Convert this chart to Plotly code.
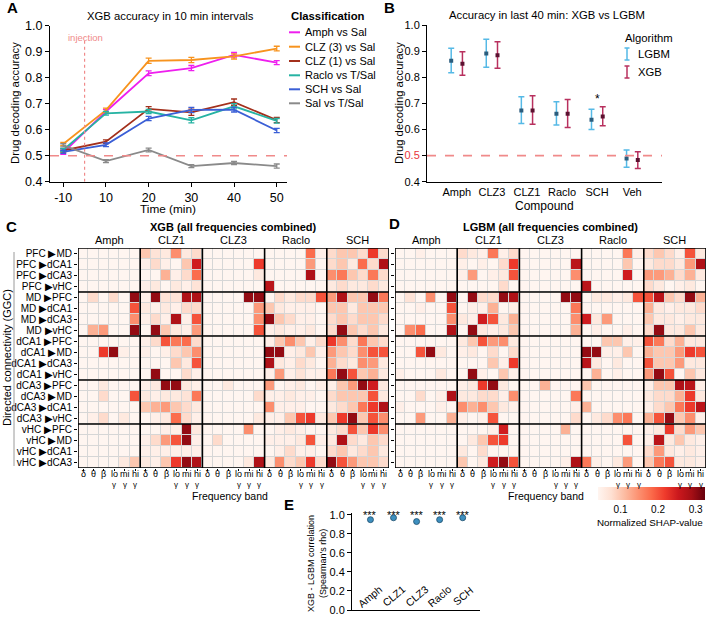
import plotly.graph_objects as go

W, H = 708, 619
FONT = "Arial, Liberation Sans, sans-serif"

# ---------------- panel A : XGB accuracy in 10 min intervals ----------------
time_labels = ["-10", "10", "20", "30", "40", "50"]
class_names = ["Amph vs Sal", "CLZ (3) vs Sal", "CLZ (1) vs Sal",
               "Raclo vs T/Sal", "SCH vs Sal", "Sal vs T/Sal"]
class_colors = ["#ee1fee", "#f7931e", "#a3301c", "#26b3a3", "#3b5fd6", "#8a8a8a"]
amph_acc = [0.512, 0.670, 0.817, 0.837, 0.888, 0.858]
clz3_acc = [0.545, 0.675, 0.865, 0.868, 0.882, 0.912]
clz1_acc = [0.520, 0.554, 0.680, 0.667, 0.706, 0.637]
raclo_acc = [0.522, 0.663, 0.670, 0.636, 0.690, 0.634]
sch_acc = [0.515, 0.542, 0.643, 0.676, 0.677, 0.597]
sal_acc = [0.540, 0.479, 0.522, 0.460, 0.472, 0.460]
amph_err = [0.007, 0.008, 0.009, 0.010, 0.009, 0.008]
clz3_err = [0.006, 0.008, 0.010, 0.010, 0.010, 0.009]
clz1_err = [0.006, 0.007, 0.009, 0.012, 0.012, 0.010]
raclo_err = [0.006, 0.007, 0.008, 0.010, 0.010, 0.009]
sch_err = [0.006, 0.007, 0.008, 0.010, 0.009, 0.008]
sal_err = [0.006, 0.006, 0.007, 0.006, 0.006, 0.008]

# ---------------- panel B : last 40 min, XGB vs LGBM ----------------
compounds_b = ["Amph", "CLZ3", "CLZ1", "Raclo", "SCH", "Veh"]
lgbm_mean = [0.863, 0.891, 0.673, 0.660, 0.637, 0.489]
lgbm_hi = [0.911, 0.945, 0.725, 0.706, 0.677, 0.521]
lgbm_lo = [0.817, 0.838, 0.623, 0.617, 0.600, 0.455]
xgb_mean = [0.852, 0.884, 0.673, 0.660, 0.650, 0.483]
xgb_hi = [0.898, 0.936, 0.729, 0.715, 0.687, 0.515]
xgb_lo = [0.808, 0.834, 0.620, 0.608, 0.614, 0.451]

# ---------------- panels C / D : SHAP heatmaps ----------------
compounds_hm = ["Amph", "CLZ1", "CLZ3", "Raclo", "SCH"]
band_top = ["δ", "θ", "β", "lo", "mi", "hi"]
band_sub = ["", "", "", "γ", "γ", "γ"]
row_labels = ["PFC ▶MD", "PFC ▶dCA1", "PFC ▶dCA3", "PFC ▶vHC",
              "MD ▶PFC", "MD ▶dCA1", "MD ▶dCA3", "MD ▶vHC",
              "dCA1 ▶PFC", "dCA1 ▶MD", "dCA1 ▶dCA3", "dCA1 ▶vHC",
              "dCA3 ▶PFC", "dCA3 ▶MD", "dCA3 ▶dCA1", "dCA3 ▶vHC",
              "vHC ▶PFC", "vHC ▶MD", "vHC ▶dCA1", "vHC ▶dCA3"]

# normalized SHAP values x100, columns: Amph | CLZ1 | CLZ3 | Raclo | SCH (6 bands each)
xgb_shap = [
    [2, 2, 2, 2, 2, 2, 10, 7, 6, 15, 6, 8, 2, 2, 2, 2, 3, 4, 4, 3, 3, 4, 18, 5, 8, 10, 10, 8, 22, 8],
    [2, 2, 2, 2, 2, 2, 5, 8, 5, 4, 10, 25, 2, 2, 2, 2, 3, 22, 3, 3, 2, 3, 14, 4, 8, 10, 6, 18, 8, 28],
    [2, 2, 2, 2, 2, 2, 4, 4, 12, 5, 8, 18, 2, 2, 2, 2, 2, 6, 3, 2, 2, 3, 28, 3, 15, 17, 10, 8, 17, 8],
    [2, 2, 2, 2, 2, 2, 5, 6, 4, 6, 5, 7, 2, 2, 2, 2, 2, 2, 27, 3, 2, 3, 3, 2, 6, 8, 6, 6, 8, 6],
    [2, 8, 2, 8, 4, 30, 5, 30, 7, 7, 28, 28, 3, 3, 2, 3, 30, 30, 2, 8, 6, 8, 8, 20, 14, 28, 10, 10, 30, 17],
    [3, 3, 2, 3, 4, 20, 6, 5, 6, 5, 8, 8, 2, 2, 2, 2, 2, 14, 10, 6, 5, 5, 5, 4, 10, 10, 6, 10, 10, 10],
    [3, 2, 2, 3, 3, 15, 5, 8, 5, 28, 5, 20, 2, 2, 2, 2, 3, 15, 30, 10, 8, 5, 5, 4, 8, 10, 8, 10, 10, 8],
    [3, 12, 14, 3, 4, 30, 4, 30, 10, 6, 5, 14, 2, 2, 2, 2, 3, 20, 5, 6, 5, 5, 6, 4, 8, 30, 10, 8, 10, 6],
    [2, 2, 2, 2, 2, 2, 5, 8, 20, 17, 18, 8, 2, 2, 2, 2, 2, 2, 5, 10, 15, 10, 5, 8, 22, 15, 8, 17, 10, 8],
    [2, 3, 22, 30, 5, 2, 5, 3, 5, 8, 10, 15, 2, 2, 2, 2, 2, 2, 30, 30, 5, 6, 10, 5, 14, 10, 8, 15, 20, 20],
    [3, 2, 3, 2, 3, 2, 4, 3, 4, 10, 6, 20, 2, 2, 2, 2, 2, 2, 28, 6, 5, 8, 6, 4, 12, 8, 6, 15, 14, 6],
    [4, 2, 2, 2, 2, 2, 3, 30, 4, 4, 8, 5, 2, 2, 3, 2, 2, 2, 5, 14, 5, 7, 5, 5, 17, 30, 20, 10, 12, 6],
    [2, 3, 6, 2, 2, 2, 5, 6, 30, 30, 6, 5, 3, 3, 6, 2, 2, 3, 14, 4, 5, 6, 4, 5, 5, 10, 14, 30, 25, 6],
    [2, 3, 8, 2, 4, 20, 6, 5, 6, 6, 7, 17, 2, 2, 2, 2, 3, 8, 5, 5, 6, 5, 5, 4, 8, 10, 10, 10, 20, 6],
    [3, 2, 3, 2, 3, 2, 10, 12, 14, 10, 8, 6, 2, 2, 2, 2, 2, 4, 15, 5, 5, 5, 4, 4, 6, 8, 10, 17, 22, 28],
    [2, 5, 8, 2, 6, 3, 4, 5, 6, 18, 8, 5, 2, 2, 2, 2, 3, 6, 5, 5, 10, 20, 22, 6, 10, 22, 30, 10, 20, 15],
    [2, 2, 3, 2, 2, 2, 4, 4, 5, 5, 30, 6, 2, 2, 2, 2, 15, 4, 4, 5, 6, 5, 4, 4, 6, 8, 20, 10, 22, 15],
    [2, 2, 3, 2, 3, 2, 5, 8, 14, 20, 30, 5, 2, 8, 2, 2, 2, 3, 5, 5, 5, 6, 20, 5, 6, 28, 8, 6, 10, 8],
    [2, 2, 2, 2, 3, 2, 5, 5, 5, 5, 5, 5, 2, 2, 2, 2, 2, 2, 4, 5, 8, 5, 5, 4, 8, 10, 6, 8, 10, 6],
    [2, 3, 2, 3, 6, 10, 6, 5, 10, 22, 30, 28, 2, 2, 2, 4, 6, 28, 6, 15, 8, 10, 22, 8, 30, 20, 14, 10, 10, 8],
]
lgbm_shap = [
    [2, 2, 5, 4, 2, 2, 8, 6, 5, 17, 5, 8, 3, 2, 2, 2, 2, 4, 3, 2, 2, 4, 17, 5, 8, 10, 8, 5, 20, 6],
    [2, 4, 3, 2, 3, 2, 5, 4, 5, 4, 8, 22, 2, 2, 2, 2, 3, 27, 3, 2, 2, 3, 10, 2, 6, 8, 8, 6, 14, 28],
    [2, 3, 2, 3, 2, 2, 5, 14, 4, 5, 6, 20, 2, 2, 2, 2, 2, 15, 3, 3, 3, 3, 25, 2, 14, 14, 12, 8, 12, 6],
    [2, 2, 3, 2, 2, 2, 3, 4, 3, 4, 8, 4, 3, 3, 3, 3, 3, 2, 27, 4, 2, 3, 3, 2, 8, 6, 4, 5, 6, 4],
    [2, 7, 2, 15, 2, 30, 3, 30, 8, 8, 30, 28, 2, 3, 2, 2, 30, 30, 2, 6, 6, 5, 6, 20, 20, 27, 10, 8, 30, 12],
    [2, 3, 5, 2, 3, 20, 3, 5, 5, 12, 4, 5, 2, 2, 2, 2, 2, 17, 4, 4, 4, 4, 4, 4, 12, 6, 5, 6, 6, 8],
    [3, 2, 2, 2, 3, 15, 6, 5, 25, 20, 6, 12, 2, 2, 2, 2, 2, 15, 25, 6, 14, 4, 4, 3, 10, 6, 6, 5, 6, 6],
    [2, 15, 18, 2, 3, 28, 3, 30, 6, 5, 6, 10, 2, 2, 2, 2, 2, 12, 4, 5, 4, 4, 5, 4, 8, 30, 6, 6, 10, 6],
    [1, 2, 1, 2, 1, 2, 6, 10, 20, 14, 15, 6, 2, 2, 2, 2, 2, 2, 2, 4, 10, 10, 5, 5, 20, 17, 8, 12, 6, 6],
    [2, 2, 20, 30, 6, 2, 5, 6, 4, 8, 3, 8, 2, 2, 2, 2, 2, 2, 30, 30, 5, 5, 10, 4, 12, 10, 10, 14, 22, 20],
    [3, 2, 3, 2, 4, 2, 4, 3, 4, 10, 5, 22, 2, 2, 2, 2, 2, 2, 27, 6, 4, 6, 4, 4, 20, 10, 10, 14, 6, 6],
    [5, 4, 2, 4, 6, 3, 4, 30, 5, 4, 10, 5, 2, 2, 2, 2, 2, 2, 2, 12, 2, 5, 4, 2, 14, 30, 20, 4, 10, 6],
    [2, 3, 4, 2, 2, 2, 5, 6, 22, 30, 6, 4, 2, 3, 12, 2, 2, 2, 10, 4, 4, 4, 4, 4, 5, 10, 10, 28, 27, 5],
    [2, 2, 8, 2, 5, 28, 6, 6, 8, 8, 5, 15, 2, 2, 2, 2, 2, 17, 4, 4, 4, 4, 4, 4, 6, 8, 8, 12, 22, 6],
    [5, 2, 4, 2, 5, 2, 15, 12, 15, 10, 6, 5, 2, 2, 2, 2, 2, 5, 12, 4, 4, 4, 4, 4, 5, 8, 10, 17, 22, 27],
    [2, 3, 14, 2, 3, 12, 5, 4, 5, 20, 4, 3, 2, 2, 2, 2, 4, 8, 4, 6, 8, 15, 17, 2, 12, 20, 30, 10, 15, 5],
    [2, 2, 2, 2, 2, 2, 4, 3, 4, 5, 25, 4, 2, 2, 2, 2, 12, 3, 4, 4, 4, 4, 4, 4, 5, 6, 22, 8, 14, 10],
    [2, 2, 2, 2, 2, 2, 4, 6, 10, 20, 22, 4, 2, 2, 2, 2, 3, 3, 4, 4, 4, 4, 20, 4, 5, 27, 6, 10, 6, 5],
    [2, 2, 2, 2, 2, 2, 6, 3, 8, 4, 4, 4, 2, 2, 2, 2, 3, 3, 4, 4, 4, 4, 4, 4, 8, 14, 6, 5, 6, 5],
    [2, 2, 2, 2, 2, 4, 10, 4, 6, 25, 30, 20, 2, 2, 2, 2, 5, 28, 17, 5, 4, 6, 14, 4, 10, 17, 20, 6, 6, 5],
]
shap_ticks = [0.1, 0.2, 0.3]

# ---------------- panel E : XGB-LGBM SHAP correlation ----------------
compounds_e = ["Amph", "CLZ1", "CLZ3", "Raclo", "SCH"]
rho = [0.95, 0.97, 0.93, 0.95, 0.97]
rho_sig = ["***", "***", "***", "***", "***"]


def px_x(v):
    return v / W


def px_y(v):
    return 1 - v / H


def dom_x(a, b):
    return [px_x(a), px_x(b)]


def dom_y(top, bottom):
    return [px_y(bottom), px_y(top)]


def label(text, x, y, size=11, bold=False, color="black", xanchor="center", angle=0):
    if bold:
        text = "<b>" + text + "</b>"
    return dict(text=text, x=px_x(x), y=px_y(y), xref="paper", yref="paper",
                xanchor=xanchor, yanchor="middle", showarrow=False, textangle=angle,
                font=dict(size=size, color=color, family=FONT))


fig = go.Figure()

# A: lines with error bars
series_a = [amph_acc, clz3_acc, clz1_acc, raclo_acc, sch_acc, sal_acc]
errors_a = [amph_err, clz3_err, clz1_err, raclo_err, sch_err, sal_err]
for name, color, vals, err in zip(class_names, class_colors, series_a, errors_a):
    fig.add_trace(go.Scatter(
        x=time_labels, y=vals, name=name, mode="lines",
        line=dict(color=color, width=1.8),
        error_y=dict(type="data", array=err, color=color, thickness=1.3, width=3),
        xaxis="x", yaxis="y"
    ))

# B: mean +/- CI for each algorithm, side by side
offset = 0.16
lgbm_pos = [i - offset for i in range(len(compounds_b))]
xgb_pos = [i + offset for i in range(len(compounds_b))]
fig.add_trace(go.Scatter(
    x=lgbm_pos, y=lgbm_mean, mode="markers", name="LGBM",
    marker=dict(symbol="square", size=4, color="#2b5d7d"),
    error_y=dict(type="data", symmetric=False,
                 array=[h - m for h, m in zip(lgbm_hi, lgbm_mean)],
                 arrayminus=[m - l for m, l in zip(lgbm_mean, lgbm_lo)],
                 color="#55b9e6", thickness=1.5, width=3),
    xaxis="x2", yaxis="y2"
))
fig.add_trace(go.Scatter(
    x=xgb_pos, y=xgb_mean, mode="markers", name="XGB",
    marker=dict(symbol="square", size=4, color="#5c1130"),
    error_y=dict(type="data", symmetric=False,
                 array=[h - m for h, m in zip(xgb_hi, xgb_mean)],
                 arrayminus=[m - l for m, l in zip(xgb_mean, xgb_lo)],
                 color="#b8305e", thickness=1.5, width=3),
    xaxis="x2", yaxis="y2"
))

# C / D heatmaps
reds = [[0.0, "#fff5f0"], [0.125, "#fee0d2"], [0.25, "#fcbba1"], [0.375, "#fc9272"],
        [0.5, "#fb6a4a"], [0.625, "#ef3b2c"], [0.75, "#cb181d"], [0.875, "#a50f15"],
        [1.0, "#67000d"]]
SHAP_MIN, SHAP_MAX = 0.04, 0.325
xgb_z = [[v / 100 for v in row] for row in xgb_shap]
lgbm_z = [[v / 100 for v in row] for row in lgbm_shap]
fig.add_trace(go.Heatmap(
    z=xgb_z, colorscale=reds, zmin=SHAP_MIN, zmax=SHAP_MAX, xgap=1, ygap=1,
    showscale=False, xaxis="x3", yaxis="y3"
))
fig.add_trace(go.Heatmap(
    z=lgbm_z, colorscale=reds, zmin=SHAP_MIN, zmax=SHAP_MAX, xgap=1, ygap=1,
    xaxis="x4", yaxis="y4",
    colorbar=dict(orientation="h", x=px_x(598), xanchor="left", lenmode="pixels", len=107,
                  y=px_y(487), yanchor="top", thickness=13, xpad=0, ypad=0,
                  outlinewidth=0, tickvals=shap_ticks, ticks="", ticklen=2,
                  tickfont=dict(size=10, family=FONT))
))

# E: correlation points
fig.add_trace(go.Scatter(
    x=compounds_e, y=rho, mode="markers",
    marker=dict(size=6, color="#3d8fbf", line=dict(color="#1d4d6b", width=0.8)),
    xaxis="x5", yaxis="y5"
))

base_axis = dict(showgrid=False, zeroline=False, linecolor="black", linewidth=1,
                 tickcolor="black", automargin=False)

b_ticks = [0.4, 0.5, 0.6, 0.7, 0.8, 0.9, 1.0]
b_ticktext = ['<span style="color:#e8353b">%.1f</span>' % t if t == 0.5 else "%.1f" % t
              for t in b_ticks]
e_ticks = [0.0, 0.2, 0.4, 0.6, 0.8, 1.0]

hm_x = dict(base_axis, range=[-0.5, 29.5], tickvals=list(range(30)), ticks="outside",
            ticklen=2, showticklabels=False, showline=False)
hm_y = dict(base_axis, range=[19.5, -0.5], tickvals=list(range(20)), ticks="outside",
            ticklen=3, showline=False)

fig.update_layout(
    width=W, height=619,
    margin=dict(l=0, r=0, t=0, b=0, autoexpand=False),
    paper_bgcolor="white", plot_bgcolor="white",
    showlegend=False, hovermode=False,
    font=dict(family=FONT, color="black"),
    xaxis=dict(base_axis, domain=dom_x(50, 287), anchor="y", type="category",
               range=[-0.31, 5.24], showline=True, ticks="outside", ticklen=4,
               tickfont=dict(size=12.5)),
    yaxis=dict(base_axis, domain=dom_y(25.7, 181.7), anchor="x", range=[0.4, 1.0],
               dtick=0.1, tickformat=".1f", showline=True, ticks="outside", ticklen=4,
               tickfont=dict(size=12.5)),
    xaxis2=dict(base_axis, domain=dom_x(427, 662), anchor="y2", range=[-0.85, 5.85],
                tickvals=list(range(len(compounds_b))), ticktext=compounds_b,
                showline=True, ticks="", tickfont=dict(size=11)),
    yaxis2=dict(base_axis, domain=dom_y(25, 181.7), anchor="x2", range=[0.4, 1.0],
                tickvals=b_ticks, ticktext=b_ticktext, showline=True, ticks="outside",
                ticklen=4, tickfont=dict(size=11)),
    xaxis3=dict(hm_x, domain=dom_x(78, 389), anchor="y3"),
    yaxis3=dict(hm_y, domain=dom_y(248, 468), anchor="x3", ticktext=row_labels,
                tickfont=dict(size=10, family=FONT, color="black")),
    xaxis4=dict(hm_x, domain=dom_x(395, 706), anchor="y4"),
    yaxis4=dict(hm_y, domain=dom_y(248, 468), anchor="x4", showticklabels=False),
    xaxis5=dict(base_axis, domain=dom_x(352, 480), anchor="y5", type="category",
                range=[-0.8, 4.75], showline=True, ticks="", showticklabels=False),
    yaxis5=dict(base_axis, domain=dom_y(513, 610), anchor="x5", range=[0, 1.02],
                tickvals=e_ticks, ticktext=["%.1f" % t for t in e_ticks], showline=True,
                ticks="outside", ticklen=4, tickfont=dict(size=11, color="black")),
)

shapes = []
pink = "#f08a8a"
# A: injection marker and chance level
shapes.append(dict(type="line", xref="x", yref="y", x0=0.5, x1=0.5, y0=0.4, y1=0.955,
                   line=dict(color=pink, width=1.2, dash="dot")))
shapes.append(dict(type="line", xref="x domain", yref="y", x0=0, x1=1, y0=0.5, y1=0.5,
                   line=dict(color=pink, width=1.6, dash="dash")))
shapes.append(dict(type="line", xref="x2 domain", yref="y2", x0=0, x1=1, y0=0.5, y1=0.5,
                   line=dict(color=pink, width=1.6, dash="dash")))

# A legend line samples
legend_rows = [32.3, 46.7, 61, 75.3, 89.3, 103.3]
for color, yy in zip(class_colors, legend_rows):
    shapes.append(dict(type="line", xref="paper", yref="paper", x0=px_x(289), x1=px_x(300),
                       y0=px_y(yy), y1=px_y(yy), line=dict(color=color, width=2)))

# B legend error-bar glyphs
for color, yy in zip(["#55b9e6", "#b8305e"], [54, 72]):
    shapes.append(dict(type="line", xref="paper", yref="paper", x0=px_x(627), x1=px_x(627),
                       y0=px_y(yy - 6), y1=px_y(yy + 6), line=dict(color=color, width=1.5)))
    for cap in (yy - 6, yy + 6):
        shapes.append(dict(type="line", xref="paper", yref="paper", x0=px_x(624.5),
                           x1=px_x(629.5), y0=px_y(cap), y1=px_y(cap),
                           line=dict(color=color, width=1.5)))

# heatmap grid background, block separators and frames
for xr, yr in [("x3", "y3"), ("x4", "y4")]:
    shapes.append(dict(type="rect", xref=xr, yref=yr, x0=-0.5, x1=29.5, y0=-0.5, y1=19.5,
                       fillcolor="#d6d6d6", line=dict(width=0), layer="below"))
    for k in range(1, len(compounds_hm)):
        shapes.append(dict(type="line", xref=xr, yref=yr, x0=6 * k - 0.5, x1=6 * k - 0.5,
                           y0=-0.5, y1=19.5, line=dict(color="black", width=1.6)))
    for k in range(1, 5):
        shapes.append(dict(type="line", xref=xr, yref=yr, x0=-0.5, x1=29.5,
                           y0=4 * k - 0.5, y1=4 * k - 0.5, line=dict(color="black", width=1.6)))
    shapes.append(dict(type="rect", xref=xr, yref=yr, x0=-0.5, x1=29.5, y0=-0.5, y1=19.5,
                       line=dict(color="black", width=1.6)))

# bracket next to the heatmap row title
shapes.append(dict(type="line", xref="paper", yref="paper", x0=px_x(14), x1=px_x(14),
                   y0=px_y(252), y1=px_y(466), line=dict(color="#9a9a9a", width=1)))

annotations = [
    label("A", 12, 8, size=15, bold=True),
    label("XGB accuracy in 10 min intervals", 170, 16, size=11.3),
    label("Classification", 289, 16, size=11.3, bold=True, xanchor="left"),
    label("injection", 85, 37, size=9.5, color=pink),
    label("Drug decoding accuracy", 15, 103, size=11.3, angle=-90),
    label("Time (min)", 168, 209, size=11.8),
    label("B", 389, 7, size=15, bold=True),
    label("Accuracy in last 40 min: XGB vs LGBM", 547, 15, size=11.3),
    label("Algorithm", 623, 38, size=11.3, xanchor="left"),
    label("LGBM", 636, 54, size=11.3, xanchor="left"),
    label("XGB", 636, 72, size=11.3, xanchor="left"),
    label("Drug decoding accuracy", 399, 103, size=11.3, angle=-90),
    label("Compound", 544, 206, size=12),
    label("C", 11, 226, size=15, bold=True),
    label("XGB (all frequencies combined)", 233.5, 227, size=11, bold=True),
    label("D", 394, 223, size=15, bold=True),
    label("LGBM (all frequencies combined)", 550.5, 227, size=11, bold=True),
    label("Directed connectivity (GGC)", 7, 358, size=11, angle=-90),
    label("Frequency band", 230, 496, size=10.5),
    label("Frequency band", 546, 496, size=10.5),
    label("Normalized SHAP-value", 650, 522, size=9.8),
    label("E", 289, 504, size=15, bold=True),
    label("XGB - LGBM correlation<br>(Spearman's rho)", 317, 564, size=9, angle=-90),
]
for name, yy in zip(class_names, legend_rows):
    annotations.append(label(name, 303, yy, size=11, xanchor="left"))
for xr in ["x3", "x4"]:
    for k, comp in enumerate(compounds_hm):
        annotations.append(dict(text=comp, x=6 * k + 2.5, xref=xr, y=px_y(240), yref="paper",
                                yanchor="middle", showarrow=False,
                                font=dict(size=11, family=FONT)))
    # frequency-band labels under each column (gamma bands get a second, smaller line)
    for c in range(len(compounds_hm) * len(band_top)):
        annotations.append(dict(text=band_top[c % 6], x=c, xref=xr, y=px_y(473.5),
                                yref="paper", yanchor="middle", showarrow=False, borderpad=0,
                                font=dict(size=9, family=FONT)))
        if band_sub[c % 6]:
            annotations.append(dict(text=band_sub[c % 6], x=c, xref=xr, y=px_y(484),
                                    yref="paper", yanchor="middle", showarrow=False,
                                    borderpad=0, font=dict(size=8, family=FONT)))
annotations.append(dict(text="*", x=compounds_b.index("SCH"), xref="x2", y=0.718, yref="y2",
                        yanchor="middle", showarrow=False, font=dict(size=12, family=FONT)))
for comp, sig in zip(compounds_e, rho_sig):
    annotations.append(dict(text=sig, x=comp, xref="x5", y=1.0, yref="y5", yanchor="middle",
                            showarrow=False, font=dict(size=11, family=FONT)))
    annotations.append(dict(text=comp, x=comp, xref="x5", y=px_y(596), yref="paper",
                            yanchor="middle", showarrow=False, textangle=-40,
                            font=dict(size=10.5, family=FONT)))

fig.update_layout(shapes=shapes, annotations=annotations)

# the page body has a default 8px margin; drop it so the figure fills the window
fig.write_html("out.html", config={"displayModeBar": False, "staticPlot": True},
               post_script="document.body.style.margin = '0';")
